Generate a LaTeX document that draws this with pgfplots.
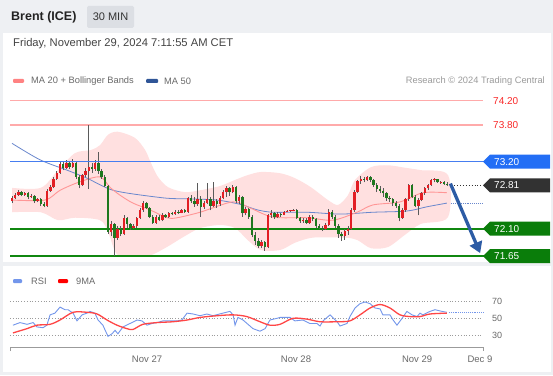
\documentclass[border=0pt]{standalone}
\usepackage{fontspec}
\setmainfont{Liberation Sans}
\usepackage{pgfplots}
\pgfplotsset{compat=1.18}
\usepackage{pgfplotstable}
\usetikzlibrary{arrows.meta}

\definecolor{bg}{RGB}{238,240,243}
\definecolor{hdrbox}{RGB}{220,223,228}
\definecolor{candR}{RGB}{226,30,36}
\definecolor{candG}{RGB}{30,120,30}
\definecolor{wick}{RGB}{90,90,90}
\definecolor{bandfill}{RGB}{255,224,224}
\definecolor{ma20}{RGB}{255,150,150}
\definecolor{ma50}{RGB}{105,135,205}
\definecolor{levelpink}{RGB}{255,170,170}
\definecolor{reslbl}{RGB}{250,40,40}
\definecolor{tagblue}{RGB}{35,110,245}
\definecolor{linblue}{RGB}{70,125,240}
\definecolor{supgreen}{RGB}{16,135,16}
\definecolor{taggreen}{RGB}{10,125,10}
\definecolor{tagdark}{RGB}{50,50,50}
\definecolor{arrowblue}{RGB}{45,92,165}
\definecolor{rsiblue}{RGB}{115,150,235}
\definecolor{rsired}{RGB}{255,70,70}
\definecolor{txtgray}{RGB}{105,105,105}
\definecolor{ltgray}{RGB}{155,155,155}
\definecolor{legpink}{RGB}{255,130,130}
\definecolor{legblue}{RGB}{47,85,151}

\newcommand\fs[1]{\fontsize{#1}{#1}\selectfont}

% wicks: index, high, low
\pgfplotstableread{
i h l
0 72.64 72.52
1 72.69 72.58
2 72.73 72.64
3 72.72 72.63
4 72.71 72.64
5 72.70 72.58
6 72.67 72.60
7 72.66 72.52
8 72.61 72.53
9 72.60 72.47
10 72.53 72.45
11 72.75 72.46
12 72.82 72.70
13 72.95 72.76
14 73.05 72.90
15 73.20 73.00
16 73.20 73.06
17 73.22 73.08
18 73.21 73.08
19 73.24 73.10
20 73.20 72.92
21 72.98 72.76
22 73.00 72.80
23 73.10 72.95
24 73.80 72.75
25 73.18 73.02
26 73.22 73.05
27 73.36 73.00
28 73.08 72.92
29 72.98 72.78
30 72.82 72.02
31 72.22 71.98
32 72.20 71.65
33 72.15 71.92
34 72.14 71.98
35 72.32 72.00
36 72.30 72.12
37 72.20 72.08
38 72.18 72.10
39 72.30 72.12
40 72.44 72.26
41 72.55 72.38
42 72.53 72.42
43 72.46 72.28
44 72.32 72.18
45 72.32 72.18
46 72.33 72.22
47 72.35 72.22
48 72.34 72.28
49 72.38 72.28
50 72.38 72.32
51 72.40 72.33
52 72.40 72.34
53 72.42 72.35
54 72.42 72.36
55 72.62 72.36
56 72.66 72.52
57 72.62 72.46
58 72.85 72.48
59 72.64 72.30
60 72.56 72.42
61 72.85 72.50
62 72.62 72.40
63 72.86 72.46
64 72.58 72.44
65 72.64 72.48
66 72.74 72.58
67 72.80 72.62
68 72.78 72.64
69 72.82 72.68
70 72.80 72.52
71 72.66 72.50
72 72.64 72.30
73 72.46 72.32
74 72.44 72.26
75 72.32 71.96
76 72.04 71.84
77 71.95 71.78
78 71.92 71.78
79 71.90 71.74
80 72.34 71.78
81 72.40 72.28
82 72.38 72.26
83 72.37 72.28
84 72.36 72.30
85 72.39 72.32
86 72.40 72.37
87 72.41 72.38
88 72.42 72.39
89 72.42 72.26
90 72.30 72.20
91 72.28 72.20
92 72.27 72.18
93 72.33 72.18
94 72.32 72.22
95 72.28 72.12
96 72.18 72.10
97 72.14 72.06
98 72.20 72.08
99 72.42 72.14
100 72.40 72.26
101 72.32 72.12
102 72.18 71.95
103 72.05 71.90
104 72.10 71.92
105 72.14 72.00
106 72.44 72.08
107 72.74 72.38
108 72.90 72.68
109 72.96 72.84
110 72.95 72.86
111 72.97 72.88
112 72.97 72.86
113 72.92 72.78
114 72.85 72.70
115 72.80 72.68
116 72.76 72.62
117 72.70 72.56
118 72.64 72.54
119 72.60 72.48
120 72.55 72.44
121 72.50 72.22
122 72.44 72.26
123 72.60 72.38
124 72.84 72.56
125 72.84 72.60
126 72.66 72.45
127 72.60 72.32
128 72.70 72.55
129 72.78 72.66
130 72.84 72.74
131 72.92 72.80
132 72.93 72.86
133 72.92 72.85
134 72.89 72.84
135 72.88 72.82
136 72.86 72.80
}\wicks

% rising candles: index, open, close
\pgfplotstableread{
i lo hi
0 72.55 72.60
1 72.60 72.66
2 72.66 72.70
4 72.66 72.68
6 72.62 72.64
8 72.55 72.58
11 72.48 72.72
12 72.72 72.78
13 72.78 72.92
14 72.92 73.02
15 73.02 73.16
17 73.10 73.18
19 73.12 73.18
22 72.82 72.98
23 72.98 73.05
24 73.05 73.12
26 73.08 73.17
31 72.05 72.18
33 71.95 72.10
35 72.02 72.28
38 72.12 72.15
39 72.15 72.28
40 72.28 72.40
41 72.40 72.52
45 72.20 72.30
47 72.24 72.32
49 72.30 72.36
51 72.34 72.38
53 72.36 72.40
55 72.38 72.60
58 72.50 72.58
60 72.45 72.52
61 72.52 72.58
63 72.48 72.55
65 72.50 72.60
66 72.60 72.70
67 72.70 72.76
69 72.70 72.78
71 72.55 72.62
73 72.35 72.42
78 71.82 71.88
80 71.80 72.32
81 72.32 72.36
83 72.30 72.34
85 72.33 72.38
86 72.38 72.39
87 72.39 72.40
88 72.40 72.41
91 72.22 72.25
93 72.20 72.30
98 72.10 72.16
99 72.16 72.38
104 71.98 72.06
105 72.06 72.10
106 72.10 72.40
107 72.40 72.70
108 72.70 72.88
109 72.88 72.92
111 72.90 72.95
122 72.28 72.40
123 72.40 72.58
124 72.58 72.82
127 72.48 72.57
128 72.57 72.68
129 72.68 72.76
130 72.76 72.82
131 72.82 72.90
132 72.90 72.91
134 72.86 72.87
}\upbodies

% falling candles: index, close, open
\pgfplotstableread{
i lo hi
3 72.66 72.70
5 72.62 72.68
7 72.55 72.64
9 72.50 72.58
10 72.48 72.50
16 73.10 73.16
18 73.12 73.18
20 72.95 73.18
21 72.82 72.95
25 73.08 73.12
27 73.05 73.17
28 72.95 73.05
29 72.80 72.95
30 72.05 72.80
32 71.95 72.18
34 72.02 72.10
36 72.18 72.28
37 72.12 72.18
42 72.44 72.52
43 72.30 72.44
44 72.20 72.30
46 72.24 72.30
48 72.30 72.32
50 72.34 72.36
52 72.36 72.38
54 72.38 72.40
56 72.55 72.60
57 72.50 72.55
59 72.45 72.58
62 72.48 72.58
64 72.50 72.55
68 72.70 72.76
70 72.55 72.78
72 72.35 72.62
74 72.30 72.42
75 72.00 72.30
76 71.90 72.00
77 71.82 71.90
79 71.80 71.88
82 72.30 72.36
84 72.33 72.34
89 72.28 72.41
90 72.22 72.28
92 72.20 72.25
94 72.26 72.30
95 72.15 72.26
96 72.12 72.15
97 72.10 72.12
100 72.30 72.38
101 72.15 72.30
102 72.02 72.15
103 71.98 72.02
110 72.90 72.92
112 72.90 72.95
113 72.82 72.90
114 72.75 72.82
115 72.72 72.75
116 72.68 72.72
117 72.60 72.68
118 72.58 72.60
119 72.52 72.58
120 72.48 72.52
121 72.28 72.48
125 72.62 72.82
126 72.48 72.62
133 72.86 72.91
135 72.84 72.87
136 72.81 72.84
}\downbodies

% Bollinger band outline: upper edge left to right, then lower edge right to left
\pgfplotstableread{
i p
0 72.77
9 72.77
14.4 73.06
19.7 73.34
24.7 73.39
27.5 73.47
30 73.64
33.1 73.69
38.4 73.59
41.6 73.39
43.4 73.18
45.6 72.95
48.8 72.78
54 72.70
58.75 72.73
65 72.80
69.7 72.90
73.75 72.98
77.8 73.03
83.75 73.01
88.4 72.93
93.4 72.78
98.75 72.57
101.9 72.49
105 72.65
107.2 72.90
112.2 73.11
117.5 73.14
122.8 73.10
127.8 73.06
136.25 72.98
136.25 72.29
127.8 72.18
122.8 72.00
117.5 71.80
112.2 71.78
108.1 71.91
105 71.95
98.75 71.96
93.4 71.95
88.4 71.87
83.75 71.75
77.8 71.75
73.75 71.91
69.7 72.11
65 72.16
58.75 72.11
53.4 71.96
48.4 71.80
43.1 71.66
37.8 71.64
32.8 71.68
30 72.05
27.5 72.24
19.7 72.28
14.4 72.24
9 72.37
0 72.37
}\band

\pgfplotstableread{
i p
0 72.57
10.3 72.57
15 72.73
21.25 72.87
27.5 72.95
30.6 72.78
33.75 72.65
37.8 72.52
43.1 72.41
48.4 72.28
51.6 72.28
58.75 72.37
69 72.54
74.4 72.44
81.6 72.29
92.2 72.28
100.3 72.24
107.8 72.37
112.8 72.49
121.25 72.54
128.4 72.69
135.9 72.69
}\maTwenty

\pgfplotstableread{
i p
0 73.50
8.75 73.23
17.2 73.06
23.4 72.93
27.5 72.82
31.6 72.73
37.8 72.67
48.4 72.60
54.7 72.59
64 72.57
71.25 72.50
76.6 72.41
81.6 72.37
92.2 72.37
102.5 72.34
112.8 72.37
123.4 72.39
129.7 72.46
135.9 72.52
}\maFifty

\pgfplotstableread{
i r
0.3 42
2.5 45
4.7 43
6.6 45
7.8 40
9.7 39
10.9 42
11.9 54
13.4 56
15 63
16.6 60
17.5 60
19.1 56
20.3 47
21.9 54
23.4 56
24.4 58
25.9 56
26.9 48
28.4 42
30 29
31.25 32
32.2 36
33.1 32
34.7 40
36.9 44
39.1 48
40.6 47
42.2 42
43.75 44
45.3 45
47.2 47
49.4 47
51.6 47
53.1 48
54.7 56
56.6 55
58.75 53
60.9 55
62.8 53
65.9 56
68.1 58
69.1 54
69.7 42
70.6 51
72.2 48
75.3 38
77.5 35
79.1 38
80.6 48
82.8 50
83.75 51
86.9 51
88.4 47
90.9 48
93.1 44
95.3 44
96.25 41
97.2 47
99.4 54
101.6 46
102.5 41
104.7 44
105.6 52
107.2 62
108.75 67
110.3 69
111.9 67
113.4 62
115 61
115.9 54
118.1 54
119.1 48
120.3 42
121.9 50
123.4 58
125 54
126.6 52
127.5 56
128.4 54
130.6 58
132.2 60
134.4 58
135.9 57
}\rsi

\pgfplotstableread{
i r
0.3 33
4.7 38
7.8 42
11.9 43
15 48
19.1 57
23.4 57
26.6 55
29.7 48
32.8 42
35.9 38
37.8 37
40.9 43
45.3 45
50.3 46
54.7 48
58.75 51
64.1 53
69.1 54
73.4 52
77.5 46
80.6 42
83.75 43
87.8 50
92.2 49
96.25 46
101.6 46
105.6 47
108.75 54
111.9 62
115 66
118.1 62
121.25 54
124.4 52
127.5 52
130.6 55
135.9 56
}\rsima

\begin{document}
\begin{tikzpicture}
\useasboundingbox (0pt,0pt) rectangle (553pt,375pt);
\fill[bg] (0pt,0pt) rectangle (553pt,375pt);
\fill[white] (3pt,113pt) rectangle (551pt,342pt);
\fill[white] (3pt,3pt) rectangle (551pt,109pt);

% header
\node[anchor=west, inner sep=0, font=\fs{12.5}\bfseries, text={rgb,255:red,34;green,34;blue,34}] at (11pt,358pt) {Brent (ICE)};
\fill[hdrbox, rounded corners=1.5pt] (87pt,347pt) rectangle (134pt,369pt);
\node[inner sep=0, font=\fs{11}, text={rgb,255:red,51;green,51;blue,51}] at (110.5pt,358pt) {30 MIN};
\node[anchor=west, inner sep=0, font=\fs{11.2}, text={rgb,255:red,68;green,68;blue,68}] at (13pt,331pt) {Friday, November 29, 2024 7:11:55 AM CET};

% main legend
\fill[legpink, rounded corners=1pt] (13pt,292pt) rectangle (24pt,296pt);
\node[anchor=west, inner sep=0, font=\fs{9.3}, text=txtgray] at (31pt,294pt) {MA 20 + Bollinger Bands};
\fill[legblue, rounded corners=1pt] (146pt,292pt) rectangle (158pt,296pt);
\node[anchor=west, inner sep=0, font=\fs{9.3}, text=txtgray] at (164pt,294pt) {MA 50};
\node[anchor=east, inner sep=0, font=\fs{9.3}, text=ltgray] at (545pt,294pt) {Research \textcopyright{} 2024 Trading Central};

% RSI legend
\fill[rsiblue, rounded corners=1pt] (13pt,92pt) rectangle (22pt,96pt);
\node[anchor=west, inner sep=0, font=\fs{9.3}, text=txtgray] at (31pt,94pt) {RSI};
\fill[red, rounded corners=1pt] (58pt,92pt) rectangle (68pt,96pt);
\node[anchor=west, inner sep=0, font=\fs{9.3}, text=txtgray] at (76pt,94pt) {9MA};

\begin{axis}[at={(10pt,117pt)}, anchor=south west, scale only axis,
  width=475pt, height=170pt,
  xmin=-0.625, xmax=147.8125, ymin=71.62, ymax=74.407,
  hide axis, clip=false]
\addplot[fill=bandfill, draw=none, smooth] table[x=i,y=p] {\band};
% levels
\fill[levelpink] (axis cs:-0.625,74.19) rectangle (axis cs:147.2,74.21);
\fill[levelpink] (axis cs:-0.625,73.79) rectangle (axis cs:147.2,73.81);
\fill[supgreen] (axis cs:-0.625,72.085) rectangle (axis cs:147.8,72.115);
\fill[supgreen] (axis cs:-0.625,71.635) rectangle (axis cs:147.8,71.665);
% moving averages
\addplot[draw=ma50, line width=0.8pt, smooth] table[x=i,y=p] {\maFifty};
\addplot[draw=ma20, line width=0.9pt, smooth] table[x=i,y=p] {\maTwenty};
\addplot[draw=ma50, densely dotted, line width=0.9pt] coordinates {(137.3,72.52) (147.2,72.52)};
\addplot[draw=tagdark, dotted, line width=0.9pt] coordinates {(137.3,72.81) (147.2,72.81)};
% wicks
\addplot[draw=none, mark=none, error bars/.cd, y dir=plus, y explicit, error mark=none,
  error bar style={draw=wick, line width=0.7pt}]
  table[x=i, y=l, y error expr=\thisrow{h}-\thisrow{l}] {\wicks};
% bodies
\addplot[draw=none, mark=none, error bars/.cd, y dir=plus, y explicit, error mark=none,
  error bar style={draw=candR, line width=2.3pt}]
  table[x=i, y=lo, y error expr=\thisrow{hi}-\thisrow{lo}] {\upbodies};
\addplot[draw=none, mark=none, error bars/.cd, y dir=plus, y explicit, error mark=none,
  error bar style={draw=candG, line width=2.3pt}]
  table[x=i, y=lo, y error expr=\thisrow{hi}-\thisrow{lo}] {\downbodies};
% resistance line 73.20
\fill[linblue] (axis cs:-0.625,73.186) rectangle (axis cs:147.8,73.214);
% arrow
\draw[arrowblue, line width=3.3pt, -{Triangle[length=11pt,width=13pt]}] (axis cs:137.0,72.84) -- (axis cs:146.3,71.70);
% right labels
\node[anchor=west, inner sep=0, font=\fs{10}, text=reslbl] at ([xshift=8pt]axis cs:147.8125,74.2) {74.20};
\node[anchor=west, inner sep=0, font=\fs{10}, text=reslbl] at ([xshift=8pt]axis cs:147.8125,73.8) {73.80};
\fill[tagblue] ([xshift=-2pt]axis cs:147.8125,73.2) -- ++(7pt,7pt) -- ++(60pt,0pt) -- ++(0pt,-14pt) -- ++(-60pt,0pt) -- cycle;
\node[anchor=west, inner sep=0, font=\fs{10}, text=white] at ([xshift=9pt]axis cs:147.8125,73.2) {73.20};
\fill[tagdark] ([xshift=-2pt]axis cs:147.8125,72.81) -- ++(7pt,7pt) -- ++(60pt,0pt) -- ++(0pt,-14pt) -- ++(-60pt,0pt) -- cycle;
\node[anchor=west, inner sep=0, font=\fs{10}, text=white] at ([xshift=9pt]axis cs:147.8125,72.81) {72.81};
\fill[taggreen] ([xshift=-2pt]axis cs:147.8125,72.1) -- ++(7pt,7pt) -- ++(60pt,0pt) -- ++(0pt,-14pt) -- ++(-60pt,0pt) -- cycle;
\node[anchor=west, inner sep=0, font=\fs{10}, text=white] at ([xshift=9pt]axis cs:147.8125,72.1) {72.10};
\fill[taggreen] ([xshift=-2pt]axis cs:147.8125,71.65) -- ++(7pt,7pt) -- ++(60pt,0pt) -- ++(0pt,-14pt) -- ++(-60pt,0pt) -- cycle;
\node[anchor=west, inner sep=0, font=\fs{10}, text=white] at ([xshift=9pt]axis cs:147.8125,71.65) {71.65};
\end{axis}

\begin{axis}[at={(10pt,30pt)}, anchor=south west, scale only axis,
  width=475pt, height=55pt,
  xmin=-0.625, xmax=147.8125, ymin=18.95, ymax=82.9,
  hide axis, clip=false]
\draw[ltgray, dotted, line width=0.8pt] (axis cs:-0.625,70) -- (axis cs:147.2,70);
\draw[ltgray, dotted, line width=0.8pt] (axis cs:-0.625,50) -- (axis cs:147.2,50);
\draw[ltgray, dotted, line width=0.8pt] (axis cs:-0.625,30) -- (axis cs:147.2,30);
\addplot[draw=rsiblue, line width=0.9pt] table[x=i,y=r] {\rsi};
\addplot[draw=rsired, line width=1.3pt, smooth] table[x=i,y=r] {\rsima};
\addplot[draw=rsiblue, densely dotted, line width=0.9pt] coordinates {(136.5,57) (147.2,57)};
\node[font=\fs{9}, text=txtgray, inner sep=0] at ([xshift=12pt]axis cs:147.8125,70) {70};
\node[font=\fs{9}, text=txtgray, inner sep=0] at ([xshift=12pt]axis cs:147.8125,50) {50};
\node[font=\fs{9}, text=txtgray, inner sep=0] at ([xshift=12pt]axis cs:147.8125,30) {30};
\draw[ltgray, line width=1pt] ([yshift=-6pt]axis cs:-0.3125,18.95) -- ([yshift=-2pt]axis cs:-0.3125,18.95) -- ([yshift=-2pt]axis cs:147.19,18.95) -- ([yshift=-6pt]axis cs:147.19,18.95);
\node[font=\fs{9.5}, text=txtgray, inner sep=0] at ([yshift=-14pt]axis cs:42.2,18.95) {Nov 27};
\node[font=\fs{9.5}, text=txtgray, inner sep=0] at ([yshift=-14pt]axis cs:88.75,18.95) {Nov 28};
\node[font=\fs{9.5}, text=txtgray, inner sep=0] at ([yshift=-14pt]axis cs:126.6,18.95) {Nov 29};
\node[font=\fs{9.5}, text=txtgray, inner sep=0] at ([yshift=-14pt]axis cs:146.25,18.95) {Dec 9};
\end{axis}
\end{tikzpicture}
\end{document}
